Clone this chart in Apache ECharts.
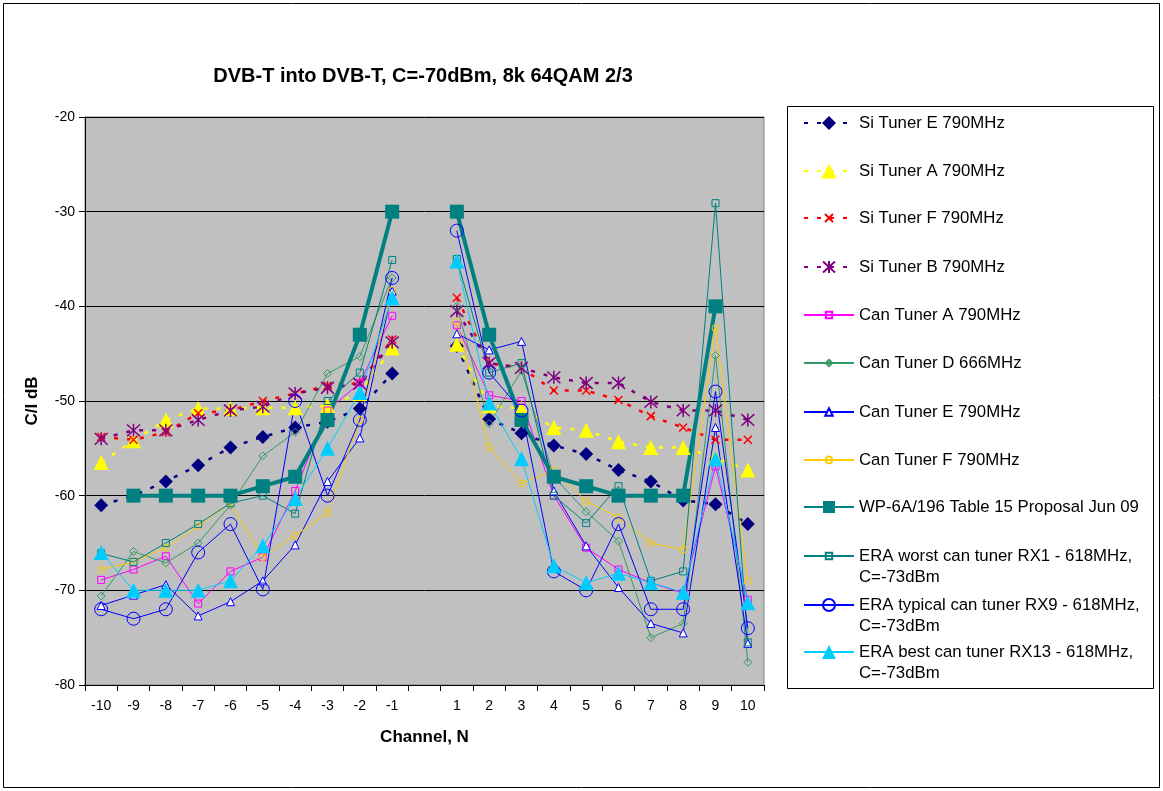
<!DOCTYPE html>
<html>
<head>
<meta charset="utf-8">
<script src="https://cdn.jsdelivr.net/npm/echarts@6/dist/echarts.min.js"></script>
<style>
html,body{margin:0;padding:0;background:#fff;}
#chart{width:1163px;height:791px;}
</style>
</head>
<body>
<div id="chart"></div>
<script>
// ---- data ----
const channels = ['-10','-9','-8','-7','-6','-5','-4','-3','-2','-1','','1','2','3','4','5','6','7','8','9','10'];
const yTicks = [-80,-70,-60,-50,-40,-30,-20];

const siTunerE  = [-61,-60,-58.5,-56.8,-54.9,-53.8,-52.8,-52.2,-50.8,-47.1,null,-44.2,-51.9,-53.4,-54.7,-55.6,-57.3,-58.5,-60.5,-60.9,-63];
const siTunerA  = [-56.5,-54.2,-52,-50.8,-50.8,-50.7,-50.7,-50.5,-49.2,-44.4,null,-44,-50.5,-50.8,-52.8,-53.1,-54.3,-54.9,-54.9,-56,-57.3];
const siTunerF  = [-53.8,-54.1,-53.3,-51.3,-51,-50,-49.2,-48.4,-48.1,-43.5,null,-39.1,-46,-46.5,-48.9,-48.9,-49.9,-51.6,-52.8,-54.1,-54.1];
const siTunerB  = [-54,-53.1,-53.1,-52,-51,-50.6,-49.2,-48.6,-48.2,-43.8,null,-40.5,-46,-46.5,-47.5,-48.1,-48.1,-50.1,-51,-51,-52];
const canTunerA = [-68.9,-67.8,-66.4,-71.4,-68,-66.5,-59.5,-51,-48.1,-41,null,-42,-49.4,-50,-60,-65.5,-67.8,-69.2,-70.3,-56.9,-71];
const canTunerD = [-70.6,-65.9,-67.1,-65,-61,-55.8,-53.3,-47.1,-45.3,-37,null,-40,-52.4,-46.8,-58,-61.7,-64.8,-75,-73.5,-45.2,-77.6];
const canTunerE = [-71.6,-70.5,-69.4,-72.7,-71.2,-69,-65.2,-58.5,-53.9,-38.4,null,-42.9,-44.6,-43.7,-59.5,-65.3,-69.7,-73.5,-74.5,-52.8,-75.6];
const canTunerF = [-67.8,-67,-65.5,-63.2,-60.8,-66.5,-64.2,-61.8,-52,-38.3,null,-41.6,-54.9,-58.7,-57.3,-60.6,-62.3,-65,-65.7,-42.3,-69];
const wpProposal = [null,-60,-60,-60,-60,-59,-58,-52,-43,-30,null,-30,-43,-52,-58,-59,-60,-60,-60,-40,null];
const eraWorst   = [-66.1,-67,-65,-63,-60.8,-60,-61.9,-50,-47,-35.1,null,-35,-47,-46,-60,-62.9,-59,-69,-68,-29.1,-75.5];
const eraTypical = [-72,-73,-72,-66,-63,-69.9,-50,-60,-52,-37,null,-32,-47,-51,-68,-70,-63,-72,-72,-49,-74];
const eraBest    = [-66,-70,-70,-70,-69,-65.3,-60.3,-55,-49.1,-39.1,null,-35.2,-50.2,-56.1,-67.4,-69.2,-68.2,-69.2,-70.2,-56.1,-71.3];

const names = [
  'Si Tuner E 790MHz','Si Tuner A 790MHz','Si Tuner F 790MHz','Si Tuner B 790MHz',
  'Can Tuner A 790MHz','Can Tuner D 666MHz','Can Tuner E 790MHz','Can Tuner F 790MHz',
  'WP-6A/196 Table 15 Proposal Jun 09',
  'ERA worst can tuner RX1 - 618MHz, C=-73dBm',
  'ERA typical can tuner RX9 - 618MHz, C=-73dBm',
  'ERA best can tuner RX13 - 618MHz, C=-73dBm'
];

const FONT = '"Liberation Sans", Arial, sans-serif';
const xSym = 'path://M0,0L10,10M10,0L0,10';
const starSym = 'path://M5,0L5,10M0.5,0.5L9.5,9.5M9.5,0.5L0.5,9.5';
const dash = [4, 9];

function dashed(name, data, color, symbol, size, stroked) {
  return {
    name, type: 'line', data, symbol, symbolSize: size, connectNulls: false,
    lineStyle: { color, width: 2.5, type: dash },
    itemStyle: stroked ? { color: 'rgba(0,0,0,0)', borderColor: color, borderWidth: 1.5 } : { color, borderColor: color, borderWidth: 0 },
    z: 2
  };
}
function solid(name, data, color, symbol, size, fill, width) {
  return {
    name, type: 'line', data, symbol, symbolSize: size, connectNulls: false,
    lineStyle: { color, width: width || 1 },
    itemStyle: { color: fill, borderColor: color, borderWidth: fill === color ? 0 : 1 },
    z: 2
  };
}

const series = [
  dashed(names[0], siTunerE, '#000080', 'diamond', 14, false),
  dashed(names[1], siTunerA, '#FFFF00', 'triangle', 15, false),
  dashed(names[2], siTunerF, '#FF0000', xSym, 8, true),
  dashed(names[3], siTunerB, '#800080', starSym, 13, true),
  solid(names[4], canTunerA, '#FF00FF', 'rect', 7, 'rgba(0,0,0,0)'),
  solid(names[5], canTunerD, '#339966', 'diamond', 8, 'rgba(0,0,0,0)'),
  solid(names[6], canTunerE, '#0000FF', 'triangle', 8, '#FFFFFF'),
  solid(names[7], canTunerF, '#FFCC00', 'circle', 7, 'rgba(0,0,0,0)'),
  solid(names[8], wpProposal, '#008080', 'rect', 14, '#008080', 4),
  solid(names[9], eraWorst, '#008080', 'rect', 7, 'rgba(0,0,0,0)'),
  solid(names[10], eraTypical, '#0000FF', 'circle', 13, 'rgba(0,0,0,0)'),
  solid(names[11], eraBest, '#00CCFF', 'triangle', 15, '#00CCFF')
];

// legend: one component per entry (icon centre y, icon height)
const legendCentres = [123, 171, 218, 267, 315, 363, 412, 460, 507, 556, 605, 652];
const legendIconH   = [17.5, 19, 10, 15, 8, 8, 9.5, 8.5, 15, 8, 15, 17.5];
const LFS = 16.8;
const legends = names.map((n, i) => {
  const multi = i >= 9;
  const lh = multi ? 21.5 : 20;
  return {
    data: [n], orient: 'vertical', left: 803,
    top: multi ? legendCentres[i] - lh * 1.5 : legendCentres[i] - lh / 2,
    padding: 0, itemWidth: 50, itemHeight: legendIconH[i], itemGap: 0,
    formatter: multi ? (s => ' \n' + s.replace(', ', ',\n')) : undefined,
    textStyle: { fontFamily: FONT, fontSize: LFS, color: '#000', lineHeight: lh },
    selectedMode: false
  };
});

const chart = echarts.init(document.getElementById('chart'), null, { renderer: 'canvas' });
chart.setOption({
  backgroundColor: '#fff',
  animation: false,
  title: {
    text: 'DVB-T into DVB-T, C=-70dBm, 8k 64QAM 2/3',
    left: 418, top: 61, textAlign: 'center',
    textStyle: { fontFamily: FONT, fontSize: 20, fontWeight: 'bold', color: '#000' }
  },
  graphic: [
    { type: 'rect', shape: { x: 3.5, y: 3.5, width: 1156, height: 784 }, style: { fill: 'none', stroke: '#000', lineWidth: 1 }, silent: true, z: -10 },
    { type: 'rect', shape: { x: 787.5, y: 106.5, width: 366, height: 582 }, style: { fill: '#fff', stroke: '#000', lineWidth: 1 }, silent: true, z: -5 }
  ],
  legend: legends,
  grid: { left: 85, right: 399, top: 117, bottom: 106, show: true, backgroundColor: '#C0C0C0', borderColor: '#808080', borderWidth: 1 },
  xAxis: {
    type: 'category', data: channels, boundaryGap: true,
    name: 'Channel, N', nameLocation: 'middle', nameGap: 44,
    nameTextStyle: { fontFamily: FONT, fontSize: 17, fontWeight: 'bold', color: '#000' },
    axisLine: { lineStyle: { color: '#000', width: 1 } },
    axisTick: { show: true, alignWithLabel: false, inside: false, length: 6, lineStyle: { color: '#000' } },
    axisLabel: { fontFamily: FONT, fontSize: 14, color: '#000', margin: 14, interval: 0 },
    splitLine: { show: false }
  },
  yAxis: {
    type: 'value', min: yTicks[0], max: yTicks[yTicks.length - 1], interval: 10,
    name: 'C/I dB', nameLocation: 'middle', nameGap: 44, nameRotate: 90,
    nameTextStyle: { fontFamily: FONT, fontSize: 17, fontWeight: 'bold', color: '#000' },
    axisLine: { show: true, lineStyle: { color: '#000', width: 1 } },
    axisTick: { show: true, inside: false, length: 6, lineStyle: { color: '#000' } },
    axisLabel: { fontFamily: FONT, fontSize: 14, color: '#000', margin: 10 },
    splitLine: { show: true, lineStyle: { color: '#000', width: 1 } }
  },
  series
});
</script>
</body>
</html>
